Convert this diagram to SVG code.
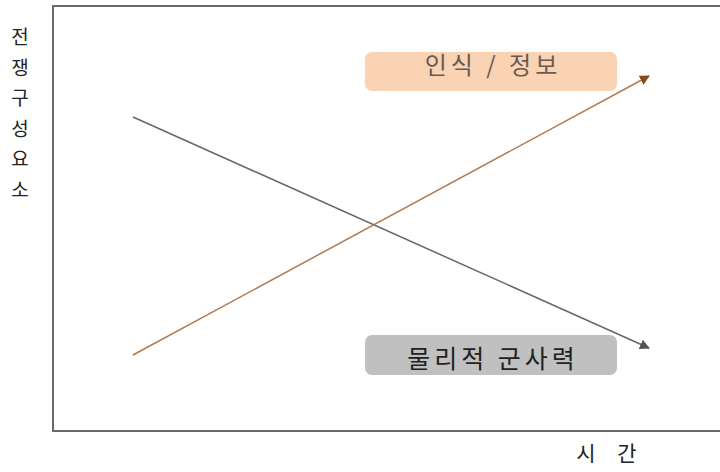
<svg xmlns="http://www.w3.org/2000/svg" width="720" height="472" viewBox="0 0 720 472">
<style>
.lbl{font-family:"Noto Sans CJK KR","Noto Sans",sans-serif;}
</style>
<defs>
<marker id="ag" viewBox="0 0 10 10" refX="9" refY="5" markerWidth="10" markerHeight="10" markerUnits="userSpaceOnUse" orient="auto"><path d="M0,0 L10,5 L0,10 z" fill="#555"/></marker>
<marker id="ab" viewBox="0 0 10 10" refX="9" refY="5" markerWidth="10" markerHeight="10" markerUnits="userSpaceOnUse" orient="auto"><path d="M0,0 L10,5 L0,10 z" fill="#8a4a1c"/></marker>
</defs>
<rect width="720" height="472" fill="#fff"/>
<g id="frame"><path d="M722,6 H53 V431 H722" fill="none" stroke="#6a6a6a" stroke-width="2"/></g>
<g id="yaxis" class="lbl" font-size="19" fill="#222" text-anchor="middle">
<text x="20" y="44">전</text><text x="20" y="74.5">쟁</text><text x="20" y="105">구</text><text x="20" y="135.5">성</text><text x="20" y="166">요</text><text x="20" y="196.5">소</text>
</g>
<g id="xaxis" class="lbl" font-size="21" fill="#222" text-anchor="middle"><text x="586" y="461">시</text><text x="627" y="461">간</text></g>
<g id="connectors">
<line x1="133" y1="117" x2="649" y2="348" stroke="#666" stroke-width="1.5" marker-end="url(#ag)"/>
<line x1="133" y1="355" x2="649" y2="76" stroke="#b07a50" stroke-width="1.5" marker-end="url(#ab)"/>
</g>
<g id="info"><rect x="365" y="52" width="252" height="39" rx="7" fill="#fad2b4"/><text class="lbl" x="493" y="74" font-size="24" letter-spacing="4" fill="#6a5a50" text-anchor="middle">인식 / 정보</text></g>
<g id="military"><rect x="365" y="335" width="252" height="40" rx="7" fill="#c0c0c0"/><text class="lbl" x="493" y="368" font-size="25" letter-spacing="4" fill="#222" text-anchor="middle">물리적 군사력</text></g>
</svg>
